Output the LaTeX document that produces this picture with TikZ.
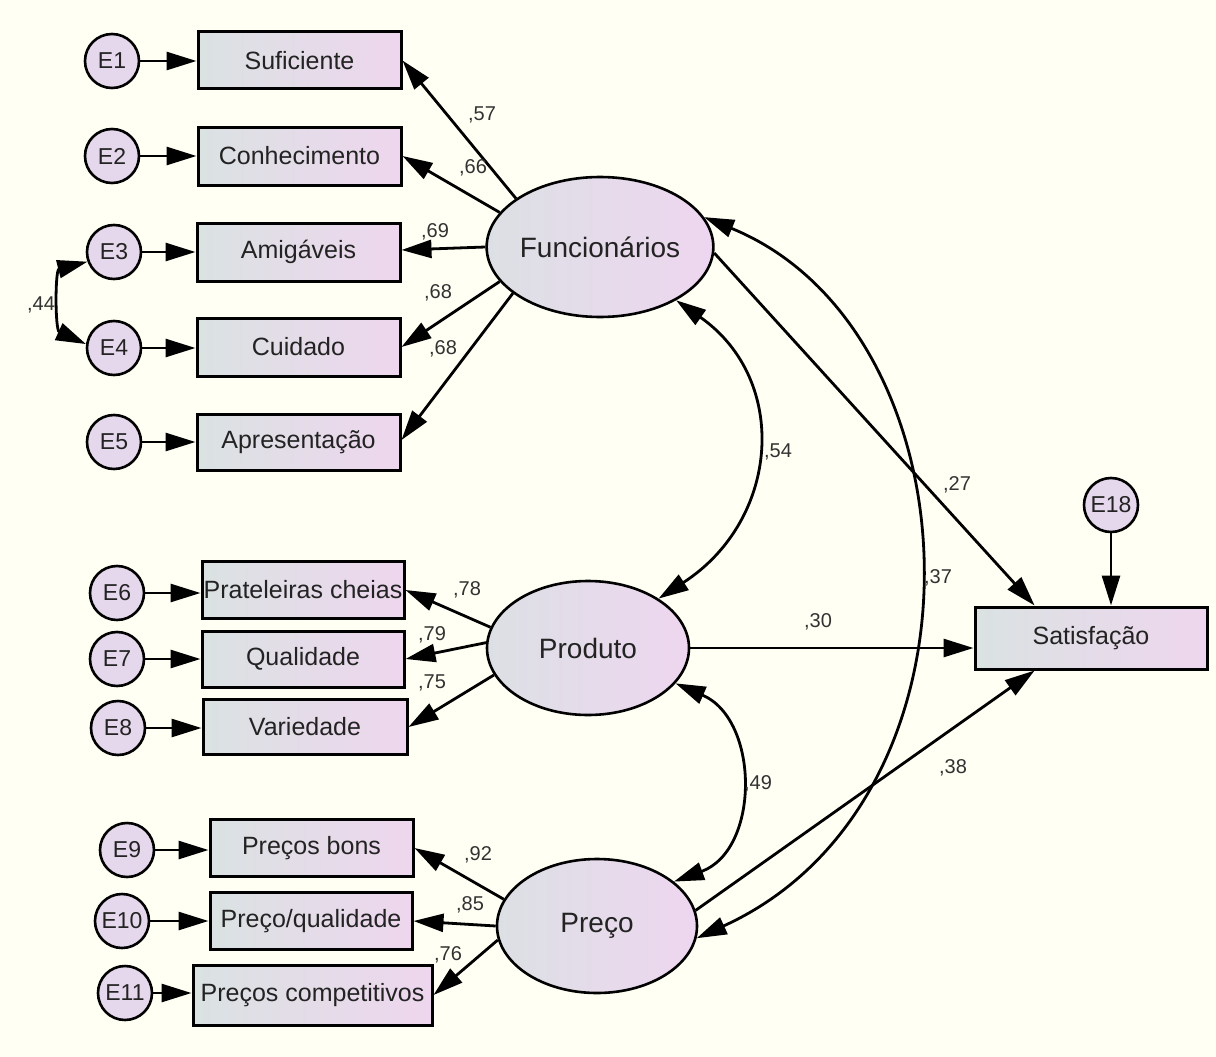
\documentclass[tikz,border=0pt]{standalone}
\usepackage{fontspec}
\setmainfont{Liberation Sans}
\usetikzlibrary{arrows.meta,shapes.geometric,calc}
\definecolor{bg}{RGB}{255,255,244}
\definecolor{boxL}{RGB}{218,226,226}
\definecolor{boxR}{RGB}{238,214,238}
\definecolor{ellL}{RGB}{220,224,228}
\definecolor{ellR}{RGB}{238,214,240}
\definecolor{errF}{RGB}{230,216,236}
\definecolor{txt}{RGB}{35,35,35}
\definecolor{coef}{RGB}{50,50,50}
\tikzset{
  obsbox/.style={rectangle, draw=black, line width=3pt, left color=boxL, right color=boxR,
    inner sep=0pt, text=txt, font=\fontsize{25}{28}\selectfont},
  latent/.style={ellipse, draw=black, line width=2.6pt, left color=ellL, right color=ellR,
    inner sep=0pt, text=txt, font=\fontsize{28}{32}\selectfont},
  errc/.style={circle, draw=black, line width=2.6pt, fill=errF, minimum size=54pt,
    inner sep=0pt, text=txt, font=\fontsize{23}{26}\selectfont},
  coeflab/.style={text=coef, inner sep=0pt, font=\fontsize{20}{23}\selectfont},
  arr/.style={line width=2.8pt, -{Triangle[length=30pt,width=18pt]}},
  darr/.style={line width=2.8pt, {Triangle[length=30pt,width=18pt]}-{Triangle[length=30pt,width=18pt]}},
}
\begin{document}
\begin{tikzpicture}[x=1pt,y=-1pt]
\useasboundingbox (0,0) rectangle (1216,1057);
\fill[bg] (0,0) rectangle (1216,1057);

% latent variables
\node[latent, minimum width=206pt, minimum height=140pt] (F) at (600,247) {Funcionários};
\node[latent, minimum width=202pt, minimum height=134pt] (P) at (588,648) {Produto};
\node[latent, minimum width=200pt, minimum height=134pt] (Pr) at (597,926) {Preço};

% observed boxes
\node[obsbox, minimum width=203pt, minimum height=57pt] (Suf) at (299.5,60.5) {Suficiente};
\node[obsbox, minimum width=203pt, minimum height=58pt] (Con) at (299.5,156) {Conhecimento};
\node[obsbox, minimum width=203pt, minimum height=58pt] (Ami) at (298.5,252) {Amigáveis};
\node[obsbox, minimum width=203pt, minimum height=58pt] (Cui) at (298.5,347) {Cuidado};
\node[obsbox, minimum width=203pt, minimum height=56pt] (Apr) at (298.5,442) {Apresentação};
\node[obsbox, minimum width=202pt, minimum height=57pt] (Pra) at (303,590) {Prateleiras cheias};
\node[obsbox, minimum width=202pt, minimum height=56pt] (Qua) at (303,659) {Qualidade};
\node[obsbox, minimum width=204pt, minimum height=55pt] (Var) at (305,727) {Variedade};
\node[obsbox, minimum width=203pt, minimum height=57pt] (PBo) at (311.5,848) {Preços bons};
\node[obsbox, minimum width=202pt, minimum height=57pt] (PQu) at (311,921) {Preço/qualidade};
\node[obsbox, minimum width=239pt, minimum height=60pt] (PCo) at (312.5,995) {Preços competitivos};
\node[obsbox, minimum width=232pt, minimum height=62pt] (Sat) at (1091,638) {Satisfação};

% error terms
\node[errc] (E1) at (112,61) {E1};
\node[errc] (E2) at (112,156) {E2};
\node[errc] (E3) at (114,252) {E3};
\node[errc] (E4) at (114,348) {E4};
\node[errc] (E5) at (114,442) {E5};
\node[errc] (E6) at (117,593) {E6};
\node[errc] (E7) at (117,659) {E7};
\node[errc] (E8) at (118,728) {E8};
\node[errc] (E9) at (127,850) {E9};
\node[errc] (E10) at (122,921) {E10};
\node[errc] (E11) at (125,993) {E11};
\node[errc] (E18) at (1111,505) {E18};

% error arrows
\draw[arr] (E1) -- (E1 -| Suf.west);
\draw[arr] (E2) -- (E2 -| Con.west);
\draw[arr] (E3) -- (E3 -| Ami.west);
\draw[arr] (E4) -- (E4 -| Cui.west);
\draw[arr] (E5) -- (E5 -| Apr.west);
\draw[arr] (E6) -- (E6 -| Pra.west);
\draw[arr] (E7) -- (E7 -| Qua.west);
\draw[arr] (E8) -- (E8 -| Var.west);
\draw[arr] (E9) -- (E9 -| PBo.west);
\draw[arr] (E10) -- (E10 -| PQu.west);
\draw[arr] (E11) -- (E11 -| PCo.west);
\draw[arr] (E18) -- (E18 |- Sat.north);

% loadings
\draw[arr] (F.150) -- (Suf.east);
\draw[arr] (F.161) -- (Con.east);
\draw[arr] (F.180) -- ($(Ami.east)+(0,-2)$);
\draw[arr] (F.199) -- (Cui.east);
\draw[arr] (F.208) -- ($(Apr.east)+(0,-2)$);
\draw[arr] (P.168) -- (Pra.east);
\draw[arr] (P.177) -- (Qua.east);
\draw[arr] (P.196) -- (Var.east);
\draw[arr] (Pr.164) -- (PBo.east);
\draw[arr] (Pr.180) -- (PQu.east);
\draw[arr] (Pr.188) -- (PCo.east);

% structural paths
\coordinate (SatTop) at ($(Sat.north west)!0.26!(Sat.north east)$);
\coordinate (SatBot) at ($(Sat.south west)!0.26!(Sat.south east)$);
\draw[arr] (F.-3) -- (SatTop);
\draw[arr] (P.0) -- (P.0 -| Sat.west);
\draw[arr] (Pr.9) -- (SatBot);

% covariances
\draw[darr] (F.-35) .. controls (790,380) and (780,520) .. (P.35);
\draw[darr] (F.16) .. controls (980,330) and (1000,800) .. (Pr.-7);
\draw[darr] (P.-22) .. controls (760,720) and (760,850) .. (Pr.30);
\draw[darr] (E3.200) .. controls (55,270) and (55,330) .. (E4.172);

% coefficients
\node[coeflab] (c57) at (482,115) {,57};
\node[coeflab] (c66) at (473,168) {,66};
\node[coeflab] (c69) at (435,232) {,69};
\node[coeflab] (c68a) at (438,293) {,68};
\node[coeflab] (c68b) at (443,349) {,68};
\node[coeflab] (c44) at (41,305) {,44};
\node[coeflab] (c78) at (467,590) {,78};
\node[coeflab] (c79) at (432,635) {,79};
\node[coeflab] (c75) at (432,683) {,75};
\node[coeflab] (c92) at (478,855) {,92};
\node[coeflab] (c85) at (470,905) {,85};
\node[coeflab] (c76) at (448,955) {,76};
\node[coeflab] (c54) at (778,452) {,54};
\node[coeflab] (c27) at (957,485) {,27};
\node[coeflab] (c37) at (938,578) {,37};
\node[coeflab] (c30) at (818,622) {,30};
\node[coeflab] (c49) at (758,784) {,49};
\node[coeflab] (c38) at (953,768) {,38};
\end{tikzpicture}
\end{document}
